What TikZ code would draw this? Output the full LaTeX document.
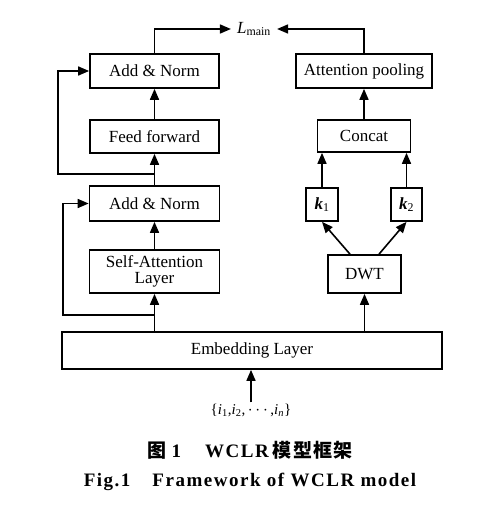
\documentclass[tikz,border=0pt]{standalone}
\usepackage{fontspec}
\setmainfont{Liberation Serif}
\newfontfamily\cjk{Noto Sans CJK SC}
\usetikzlibrary{arrows.meta,calc}
\begin{document}
\begin{tikzpicture}[x=1pt,y=-1pt,
  box/.style={draw,line width=1.7pt,inner sep=0pt,align=center,font=\fontsize{17}{16.5}\selectfont},
  arr/.style={line width=1.6pt,-{Triangle[length=11pt,width=9pt]}},
  lbl/.style={inner sep=0pt,font=\fontsize{17}{18}\selectfont}]
\useasboundingbox (0,0) rectangle (489,505);
% left column
\node[box,minimum width=129pt,minimum height=34pt] (an2) at (154.5,71) {Add \& Norm};
\node[box,minimum width=129pt,minimum height=33pt] (ff) at (154.5,136.5) {Feed forward};
\node[box,minimum width=130pt,minimum height=35pt] (an1) at (154.5,203.5) {Add \& Norm};
\node[box,minimum width=130pt,minimum height=43pt] (sa) at (154.5,271.5) {Self-Attention\\Layer};
\node[box,minimum width=380pt,minimum height=37pt] (emb) at (252,350.5) {Embedding Layer};
% right column
\node[box,minimum width=136pt,minimum height=34pt] (ap) at (364,71) {Attention pooling};
\node[box,minimum width=93pt,minimum height=32pt] (cc) at (364,136) {Concat};
\node[box,minimum width=32pt,minimum height=33pt] (k1) at (322,204.5) {\textbf{\textit{k}}\textsubscript{1}};
\node[box,minimum width=31pt,minimum height=33pt] (k2) at (406.5,204.5) {\textbf{\textit{k}}\textsubscript{2}};
\node[box,minimum width=73pt,minimum height=38pt] (dwt) at (364.5,274) {DWT};
% output and input labels
\node[lbl,inner xsep=6pt] (L) at (254,29) {\textit{L}\textsubscript{main}};
\node[inner sep=0pt,font=\fontsize{15}{16}\selectfont] (in) at (251,410) {\{\textit{i}\textsubscript{1},\textit{i}\textsubscript{2},\,{\fontsize{17}{17}\selectfont$\cdots$}\,,\textit{i}\textsubscript{\textit{n}}\}};
% connectors left
\coordinate (b1) at (154.5,315);
\coordinate (b2) at (154.5,174);
\draw[arr] (emb.north -| sa.south) -- (sa.south);
\draw[arr] (b1) -- (63,315) |- (an1.west);
\draw[arr] (sa.north) -- (an1.south);
\draw[arr] (an1.north) -- (ff.south);
\draw[arr] (b2) -- (58,174) |- (an2.west);
\draw[arr] (ff.north) -- (an2.south);
\draw[arr] (an2.north) |- (L.west);
% connectors right
\draw[arr] (emb.north -| dwt.south) -- (dwt.south);
\draw[arr] ($(dwt.north)+(-14.5,0)$) -- (k1.south);
\draw[arr] ($(dwt.north)+(14.5,0)$) -- (k2.south);
\draw[arr] (k1.north) -- (k1.north |- cc.south);
\draw[arr] (k2.north) -- (k2.north |- cc.south);
\draw[arr] (cc.north) -- (ap.south);
\draw[arr] (ap.north) |- (L.east);
% input
\draw[arr] ($(in.north)+(0,-1)$) -- (in.north |- emb.south);
% captions
\node[inner sep=0pt,font=\fontsize{19}{20}\selectfont] (c1) at (250,450)
  {{\cjk\bfseries 图}\hspace{5pt}{\bfseries 1}\hspace{24pt}{\bfseries\addfontfeature{LetterSpace=8}WCLR}\hspace{4pt}{\cjk\bfseries\addfontfeature{LetterSpace=6}模型框架}};
\node[inner sep=0pt,font=\fontsize{19}{20}\selectfont] (c2) at (250,482)
  {\bfseries\addfontfeature{LetterSpace=8}Fig.1\hspace{22pt}Framework of WCLR model};
\end{tikzpicture}
\end{document}
